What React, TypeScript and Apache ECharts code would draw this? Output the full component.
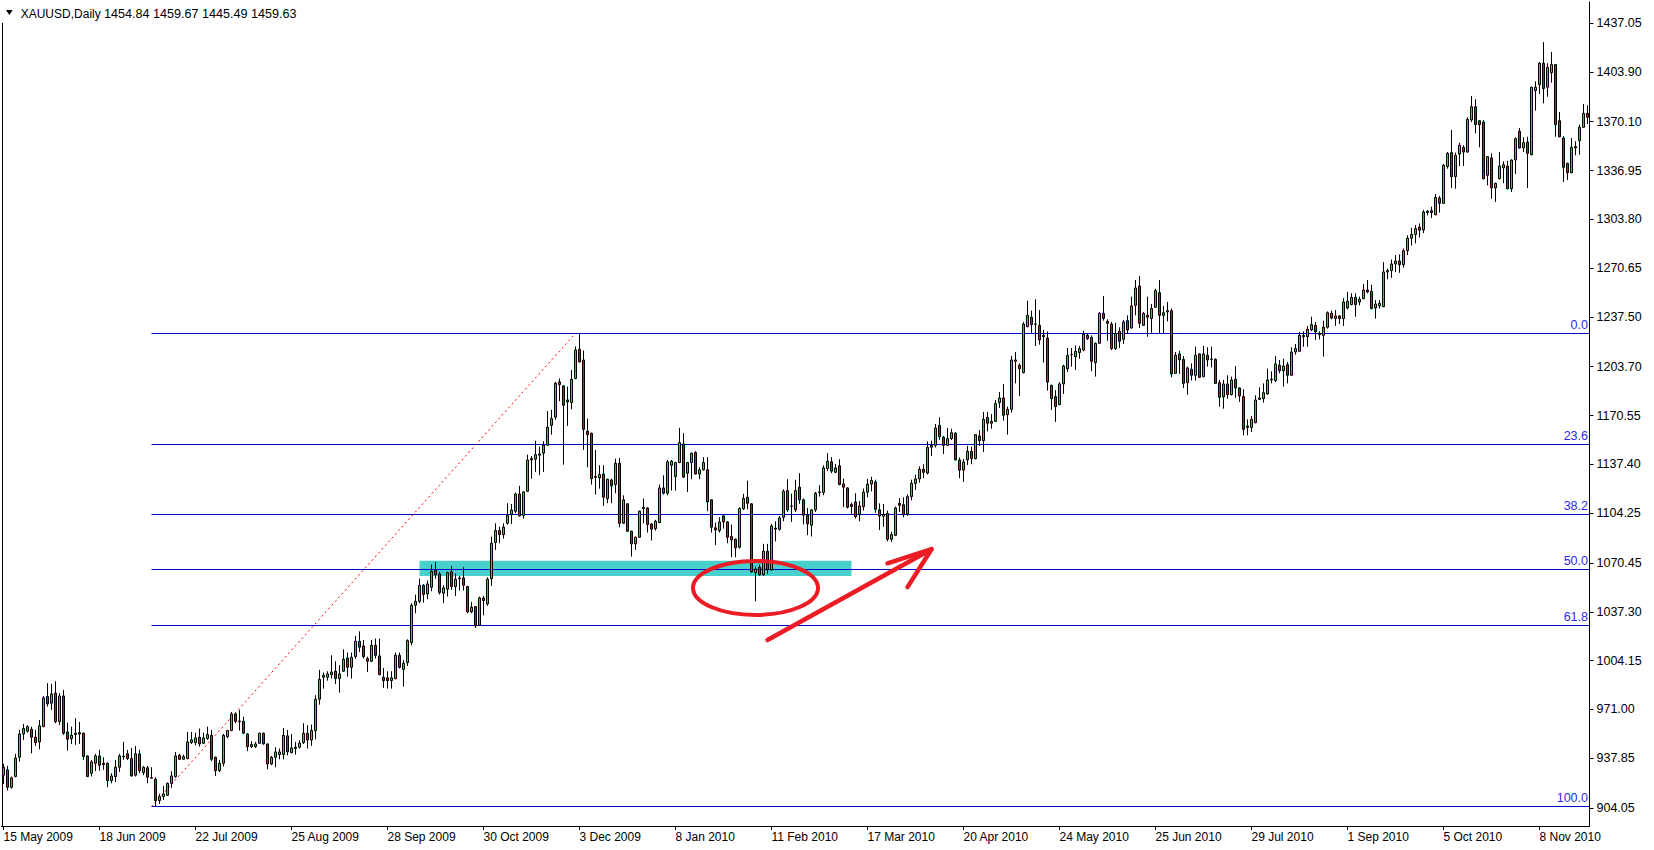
import React, { useEffect, useRef } from "react";
import * as echarts from "echarts";

// ---------------- data ----------------
const symbolName = "XAUUSD,Daily";
const symbolQuote = "1454.84 1459.67 1445.49 1459.63";
const tickLabels = [
  "15 May 2009", "18 Jun 2009", "22 Jul 2009", "25 Aug 2009", "28 Sep 2009",
  "30 Oct 2009", "3 Dec 2009", "8 Jan 2010", "11 Feb 2010", "17 Mar 2010",
  "20 Apr 2010", "24 May 2010", "25 Jun 2010", "29 Jul 2010", "1 Sep 2010",
  "5 Oct 2010", "8 Nov 2010",
];
const labelEvery = 24;
const priceTicks = [
  904.05, 937.85, 971.0, 1004.15, 1037.3, 1070.45, 1104.25, 1137.4, 1170.55,
  1203.7, 1237.5, 1270.65, 1303.8, 1336.95, 1370.1, 1403.9, 1437.05,
];
const yMin = 891.8;
const yMax = 1451.4;

// Fibonacci retracement
const fibLevels = [0, 23.6, 38.2, 50, 61.8, 100];
const fibHigh = 1226.4;
const fibLow = 905.0;
const fibStartIdx = 37;
const fibEndIdx = 143;
// support zone
const zoneFromIdx = 104;
const zoneToIdx = 212;
const zoneTop = 1072.0;
const zoneBottom = 1061.6;
// hand-drawn annotations (anchored in data space)
const circleAt = { idx: 188, price: 1053.5 };
const arrowFrom = { idx: 191, price: 1018.1 };
const arrowTip = { idx: 232, price: 1079.8 };
const arrowBarbs = [{ idx: 221, price: 1070.2 }, { idx: 226, price: 1054.0 }];

// daily bars [open, close, low, high]
const p00 = [
  [926.3, 931.7, 920.4, 933.9], [929.9, 918.1, 915.9, 932.6], [918.1, 924.5, 917.2, 925.4], [925.4, 938.0, 924.9, 940.8],
  [938.5, 954.3, 935.5, 957.1], [954.3, 958.0, 950.3, 961.1], [956.2, 959.3, 955.2, 960.2], [957.5, 952.1, 941.2, 959.3],
  [952.1, 948.5, 946.2, 957.1], [948.9, 959.8, 943.9, 963.8], [959.3, 978.8, 958.9, 980.1], [979.7, 974.7, 972.9, 988.8],
  [975.2, 981.5, 970.6, 988.3], [982.0, 962.7, 961.6, 990.1], [962.7, 980.1, 960.4, 982.0], [980.1, 954.8, 953.7, 984.2],
  [955.7, 950.7, 943.0, 962.0], [951.2, 953.4, 947.5, 959.3], [953.9, 954.8, 946.9, 965.0], [955.2, 954.3, 947.5, 962.5],
  [954.8, 938.9, 936.7, 955.2], [939.4, 925.4, 925.0, 939.8], [927.6, 935.3, 925.4, 936.7], [934.4, 939.4, 929.0, 940.8],
];
const p01 = [
  [939.4, 933.1, 929.4, 943.5], [934.4, 933.5, 929.9, 938.5], [934.4, 922.6, 918.1, 935.0], [922.6, 925.8, 920.8, 927.6],
  [925.4, 931.7, 921.7, 936.7], [931.7, 939.4, 928.5, 940.8], [938.7, 939.2, 936.7, 948.9], [940.8, 937.6, 936.7, 943.5],
  [937.6, 925.8, 925.4, 944.8], [926.3, 940.8, 925.4, 946.2], [940.8, 929.4, 927.6, 943.5], [928.1, 931.7, 926.3, 932.6],
  [931.3, 924.9, 920.8, 932.6], [924.7, 924.3, 924.0, 931.7], [923.5, 909.1, 905.0, 924.9], [909.1, 911.8, 906.8, 913.6],
  [911.8, 913.6, 909.5, 919.0], [912.7, 920.8, 912.2, 921.3], [920.8, 925.8, 917.7, 929.0], [925.4, 939.4, 924.5, 942.1],
  [939.9, 937.1, 936.7, 940.8], [937.1, 938.9, 936.7, 940.3], [937.6, 948.9, 937.1, 955.7], [948.5, 950.3, 947.5, 955.7],
];
const p02 = [
  [948.5, 951.6, 946.6, 955.2], [952.1, 947.5, 945.7, 958.0], [948.0, 951.6, 947.5, 955.2], [951.2, 953.9, 950.3, 959.3],
  [953.4, 937.1, 935.8, 957.1], [938.5, 929.4, 925.8, 938.9], [929.4, 934.4, 928.5, 936.7], [934.4, 953.4, 932.2, 954.3],
  [952.5, 956.6, 951.4, 957.1], [956.6, 967.9, 956.2, 969.3], [967.9, 962.9, 961.6, 968.8], [963.1, 962.7, 956.6, 970.6],
  [962.9, 954.8, 954.3, 966.1], [954.3, 945.7, 942.6, 954.8], [945.7, 947.1, 944.8, 949.4], [945.7, 947.5, 944.8, 948.9],
  [948.0, 954.8, 947.5, 955.2], [954.8, 947.5, 947.1, 955.2], [947.5, 933.9, 930.3, 947.9], [933.9, 938.5, 933.1, 939.4],
  [938.5, 942.1, 931.7, 945.3], [940.3, 942.1, 937.1, 944.4], [940.3, 953.4, 937.1, 958.4], [953.0, 942.1, 939.8, 957.0],
];
const p03 = [
  [941.6, 944.8, 941.2, 954.3], [944.4, 945.3, 940.3, 948.9], [945.3, 948.0, 944.4, 950.2], [948.4, 954.8, 947.5, 961.6],
  [954.8, 950.2, 944.4, 960.2], [950.2, 956.6, 946.2, 960.7], [956.6, 977.9, 950.7, 980.6], [977.9, 991.4, 974.2, 997.8],
  [992.8, 994.2, 985.1, 996.0], [992.8, 995.1, 990.5, 996.9], [994.6, 996.4, 991.9, 1007.7], [996.9, 991.9, 988.3, 1003.7],
  [991.9, 995.1, 982.4, 1001.0], [996.9, 1005.0, 996.4, 1011.8], [1005.9, 999.6, 993.3, 1009.6], [999.6, 1006.4, 991.9, 1009.6],
  [1006.8, 1017.3, 1005.5, 1020.9], [1017.3, 1013.2, 1010.0, 1024.0], [1014.1, 1006.8, 1005.5, 1018.2], [1005.5, 1003.7, 996.4, 1006.8],
  [1003.7, 1014.5, 1003.2, 1018.2], [1014.5, 1007.7, 1005.5, 1019.1], [1007.3, 994.6, 994.2, 1019.1], [992.8, 990.5, 985.6, 999.1],
];
const p04 = [
  [992.4, 990.5, 985.1, 996.9], [990.5, 992.4, 985.1, 996.9], [991.9, 1007.7, 991.4, 1009.6], [1007.7, 999.6, 998.7, 1009.6],
  [998.2, 1002.3, 986.5, 1004.6], [1002.8, 1017.7, 1000.5, 1018.6], [1016.4, 1041.7, 1014.5, 1043.1], [1041.7, 1044.4, 1036.3, 1048.9],
  [1044.4, 1055.3, 1043.1, 1059.8], [1055.3, 1049.0, 1043.5, 1056.2], [1049.4, 1056.2, 1045.8, 1058.5], [1053.9, 1064.8, 1051.2, 1069.3],
  [1065.3, 1062.5, 1059.8, 1071.1], [1063.0, 1050.3, 1049.0, 1064.4], [1049.9, 1053.5, 1043.1, 1055.3], [1052.6, 1063.9, 1047.6, 1064.4],
  [1064.4, 1054.4, 1052.1, 1068.4], [1054.4, 1059.4, 1048.0, 1063.4], [1059.8, 1060.3, 1051.7, 1061.6], [1060.3, 1055.3, 1051.7, 1067.5],
  [1054.4, 1037.2, 1036.3, 1055.0], [1037.2, 1040.4, 1036.3, 1044.0], [1040.8, 1027.7, 1026.3, 1041.2], [1028.1, 1046.7, 1027.7, 1047.6],
];
const p05 = [
  [1046.7, 1044.9, 1034.9, 1048.0], [1042.6, 1059.4, 1041.3, 1060.7], [1059.8, 1083.8, 1054.8, 1088.3], [1084.3, 1092.4, 1079.3, 1097.4],
  [1092.4, 1089.7, 1083.8, 1095.1], [1089.7, 1094.7, 1087.0, 1097.4], [1097.4, 1102.8, 1096.5, 1111.0], [1103.3, 1106.4, 1096.9, 1110.5],
  [1105.5, 1117.3, 1104.2, 1118.2], [1117.3, 1102.4, 1101.9, 1122.8], [1102.8, 1118.7, 1100.6, 1119.1], [1119.1, 1140.4, 1118.7, 1144.0],
  [1141.3, 1140.4, 1127.7, 1143.1], [1140.9, 1144.0, 1132.3, 1153.5], [1143.6, 1144.5, 1130.0, 1149.5], [1145.0, 1150.4, 1132.3, 1153.1],
  [1150.4, 1162.6, 1149.9, 1173.5], [1163.9, 1168.5, 1157.6, 1174.4], [1169.4, 1192.5, 1167.6, 1193.4], [1193.4, 1191.6, 1180.3, 1195.7],
  [1190.7, 1177.5, 1137.2, 1191.2], [1181.2, 1179.8, 1163.5, 1190.2], [1179.4, 1195.2, 1174.8, 1201.5], [1195.7, 1215.1, 1195.2, 1217.4],
];
const p06 = [
  [1215.6, 1207.0, 1206.5, 1226.4], [1208.3, 1161.2, 1147.2, 1214.7], [1159.9, 1157.6, 1135.4, 1168.5], [1158.5, 1127.7, 1123.7, 1159.0],
  [1129.1, 1128.6, 1116.9, 1147.2], [1128.2, 1130.4, 1120.9, 1136.8], [1130.9, 1115.1, 1109.2, 1136.8], [1114.1, 1127.3, 1111.0, 1127.7],
  [1126.8, 1122.8, 1111.0, 1127.7], [1123.7, 1138.1, 1117.8, 1141.3], [1138.1, 1097.4, 1094.7, 1141.8], [1097.4, 1113.3, 1097.0, 1116.4],
  [1110.6, 1092.0, 1091.5, 1111.0], [1092.0, 1083.4, 1074.8, 1092.4], [1083.4, 1087.9, 1079.3, 1088.4], [1087.9, 1105.6, 1087.5, 1106.0],
  [1107.4, 1108.3, 1097.4, 1114.2], [1107.8, 1096.5, 1091.1, 1108.3], [1096.9, 1093.4, 1085.7, 1097.4], [1093.8, 1098.8, 1092.4, 1099.7],
  [1097.9, 1121.4, 1097.4, 1123.7], [1121.4, 1117.8, 1116.9, 1130.0], [1117.8, 1139.1, 1116.4, 1140.4], [1136.8, 1139.5, 1119.6, 1140.4],
];
const p07 = [
  [1129.1, 1138.6, 1119.6, 1139.1], [1138.6, 1152.2, 1138.2, 1162.2], [1151.3, 1128.7, 1128.2, 1158.6], [1131.4, 1138.6, 1118.7, 1139.1],
  [1138.6, 1145.0, 1127.3, 1145.4], [1145.4, 1130.9, 1130.5, 1146.3], [1130.9, 1133.7, 1127.3, 1135.5], [1133.7, 1138.6, 1133.2, 1142.3],
  [1133.7, 1111.9, 1105.6, 1142.3], [1113.3, 1094.7, 1091.1, 1113.7], [1094.3, 1092.9, 1082.5, 1097.9], [1092.4, 1098.3, 1091.1, 1101.5],
  [1102.4, 1098.3, 1093.8, 1103.3], [1098.3, 1087.9, 1083.8, 1098.8], [1088.4, 1086.1, 1074.3, 1096.5], [1086.6, 1080.7, 1074.3, 1087.0],
  [1081.1, 1107.4, 1080.2, 1108.3], [1107.2, 1114.2, 1106.5, 1117.4], [1115.1, 1111.0, 1106.9, 1126.4], [1110.6, 1064.4, 1063.9, 1111.0],
  [1063.9, 1066.2, 1044.4, 1068.0], [1067.5, 1062.5, 1061.7, 1069.4], [1062.5, 1078.4, 1061.7, 1083.4], [1078.4, 1065.7, 1063.0, 1083.4],
];
const p08 = [
  [1065.7, 1095.6, 1065.3, 1096.9], [1093.4, 1094.1, 1085.1, 1098.7], [1093.3, 1101.0, 1092.4, 1102.3], [1101.5, 1119.2, 1098.8, 1120.5],
  [1119.6, 1106.5, 1105.1, 1127.3], [1109.2, 1109.0, 1098.3, 1117.4], [1106.5, 1119.6, 1105.1, 1126.9], [1121.9, 1113.3, 1110.6, 1131.4],
  [1113.3, 1102.9, 1096.5, 1114.2], [1102.9, 1097.0, 1089.3, 1107.8], [1096.1, 1106.5, 1088.4, 1106.9], [1106.5, 1117.8, 1105.1, 1118.7],
  [1118.3, 1118.7, 1115.5, 1123.2], [1118.3, 1135.0, 1116.4, 1136.8], [1134.6, 1139.5, 1132.8, 1145.0], [1139.1, 1132.8, 1131.4, 1142.3],
  [1132.0, 1135.0, 1131.4, 1137.7], [1136.4, 1123.7, 1123.2, 1140.9], [1124.1, 1121.9, 1108.3, 1127.8], [1121.4, 1108.3, 1107.4, 1121.9],
  [1110.1, 1108.8, 1103.3, 1111.5], [1111.9, 1101.9, 1100.6, 1117.8], [1103.2, 1109.2, 1098.7, 1112.5], [1108.7, 1118.5, 1106.0, 1121.0],
];
const p09 = [
  [1118.5, 1124.0, 1115.0, 1127.5], [1124.0, 1126.5, 1119.0, 1129.0], [1125.5, 1106.9, 1104.5, 1127.0], [1106.5, 1102.3, 1092.8, 1110.9],
  [1102.2, 1103.4, 1095.0, 1110.5], [1104.1, 1086.5, 1085.1, 1106.0], [1086.5, 1089.7, 1084.7, 1091.5], [1089.2, 1107.8, 1088.7, 1108.7],
  [1111.0, 1109.6, 1105.0, 1114.5], [1110.0, 1103.2, 1101.5, 1115.0], [1103.7, 1115.5, 1102.5, 1117.0], [1115.5, 1124.5, 1113.0, 1127.0],
  [1124.5, 1127.5, 1120.0, 1130.5], [1127.5, 1134.0, 1125.0, 1136.0], [1134.0, 1132.0, 1128.0, 1137.5], [1131.5, 1149.0, 1130.5, 1153.0],
  [1149.0, 1150.3, 1143.1, 1153.5], [1150.3, 1162.1, 1148.9, 1164.8], [1163.9, 1156.2, 1154.0, 1169.3], [1155.8, 1150.3, 1144.4, 1156.7],
  [1150.3, 1154.9, 1149.9, 1162.1], [1154.9, 1158.9, 1154.0, 1161.6], [1158.5, 1140.4, 1140.0, 1159.4], [1140.4, 1133.5, 1128.0, 1142.0],
];
const p10 = [
  [1133.5, 1139.0, 1125.5, 1141.0], [1140.4, 1146.2, 1137.0, 1149.9], [1146.2, 1141.3, 1137.5, 1149.4], [1141.3, 1157.6, 1140.8, 1158.0],
  [1156.7, 1153.5, 1149.9, 1160.7], [1153.5, 1168.0, 1145.8, 1173.0], [1169.3, 1165.3, 1159.8, 1173.0], [1165.3, 1166.6, 1161.6, 1171.6],
  [1166.6, 1178.8, 1166.2, 1181.1], [1179.3, 1182.5, 1175.7, 1186.5], [1182.5, 1170.7, 1167.1, 1192.0], [1171.1, 1174.8, 1157.6, 1176.6],
  [1174.8, 1208.3, 1172.5, 1211.0], [1207.4, 1208.3, 1192.4, 1213.7], [1204.7, 1202.4, 1183.8, 1206.0], [1199.7, 1232.7, 1199.2, 1234.1],
  [1230.9, 1238.6, 1230.5, 1248.6], [1237.3, 1232.3, 1226.8, 1241.8], [1232.5, 1232.7, 1217.8, 1249.5], [1231.8, 1221.9, 1218.7, 1242.2],
  [1225.0, 1224.1, 1206.5, 1228.7], [1223.2, 1193.3, 1187.5, 1227.7], [1191.1, 1182.0, 1174.3, 1191.5], [1183.4, 1176.6, 1166.2, 1187.9],
];
const p11 = [
  [1178.0, 1192.0, 1177.5, 1193.3], [1192.0, 1204.2, 1185.2, 1205.1], [1202.4, 1211.4, 1200.1, 1216.4], [1212.0, 1211.9, 1203.8, 1216.4],
  [1210.5, 1214.2, 1201.5, 1218.2], [1213.3, 1216.0, 1209.2, 1217.8], [1215.1, 1225.9, 1214.2, 1228.2], [1225.0, 1222.8, 1221.9, 1225.9],
  [1223.7, 1207.4, 1200.6, 1225.0], [1206.5, 1219.6, 1197.0, 1220.1], [1219.6, 1240.0, 1219.2, 1240.9], [1240.0, 1236.4, 1235.0, 1251.7],
  [1234.5, 1233.2, 1221.4, 1235.9], [1232.7, 1216.0, 1215.1, 1234.1], [1216.0, 1226.4, 1215.1, 1233.6], [1227.8, 1221.0, 1216.4, 1230.5],
  [1222.3, 1234.1, 1219.2, 1235.5], [1235.0, 1228.7, 1225.9, 1238.6], [1230.0, 1245.0, 1229.6, 1251.3], [1245.4, 1257.2, 1238.6, 1262.6],
  [1258.5, 1233.2, 1230.0, 1265.3], [1231.8, 1240.0, 1231.4, 1240.9], [1238.6, 1237.3, 1224.1, 1251.3], [1236.4, 1243.2, 1226.8, 1246.3],
];
const p12 = [
  [1244.1, 1255.4, 1243.6, 1256.7], [1254.0, 1238.6, 1226.4, 1262.6], [1238.6, 1240.4, 1226.4, 1245.0], [1240.9, 1241.8, 1234.5, 1247.7],
  [1241.8, 1198.8, 1196.5, 1243.2], [1199.2, 1211.5, 1198.8, 1213.7], [1212.4, 1208.3, 1198.8, 1214.6], [1208.7, 1192.4, 1189.3, 1211.0],
  [1192.9, 1202.9, 1184.7, 1203.8], [1202.0, 1197.9, 1194.3, 1206.0], [1197.9, 1211.5, 1194.3, 1217.3], [1212.4, 1196.5, 1196.1, 1212.8],
  [1197.0, 1212.4, 1196.5, 1217.8], [1211.5, 1208.3, 1203.8, 1216.9], [1208.9, 1208.7, 1203.3, 1217.3], [1208.7, 1192.4, 1192.0, 1209.5],
  [1192.9, 1182.9, 1176.6, 1194.7], [1183.3, 1192.0, 1175.2, 1194.7], [1192.0, 1184.7, 1182.0, 1197.9], [1184.7, 1194.7, 1184.3, 1197.0],
  [1195.2, 1189.3, 1182.5, 1204.2], [1189.3, 1183.8, 1179.8, 1189.7], [1183.4, 1161.2, 1157.1, 1188.4], [1162.5, 1163.5, 1157.1, 1168.0],
];
const p13 = [
  [1162.5, 1168.0, 1159.4, 1170.3], [1165.7, 1181.1, 1165.3, 1184.3], [1181.5, 1182.5, 1181.1, 1189.7], [1182.0, 1186.1, 1179.3, 1192.4],
  [1185.2, 1194.7, 1184.7, 1202.4], [1194.7, 1195.2, 1192.4, 1200.6], [1194.3, 1205.6, 1193.3, 1211.0], [1204.7, 1201.0, 1199.2, 1208.3],
  [1201.0, 1204.2, 1190.2, 1209.2], [1205.1, 1197.9, 1192.4, 1206.9], [1197.9, 1213.7, 1197.4, 1216.9], [1213.7, 1216.0, 1211.9, 1219.2],
  [1214.2, 1225.0, 1213.7, 1227.3], [1224.1, 1225.0, 1217.3, 1227.8], [1224.1, 1229.1, 1217.3, 1231.4], [1228.7, 1232.3, 1227.8, 1237.7],
  [1231.8, 1227.3, 1221.9, 1234.1], [1226.4, 1225.5, 1222.3, 1227.8], [1225.0, 1230.5, 1210.6, 1235.0], [1230.5, 1240.4, 1229.6, 1241.3],
  [1240.0, 1236.8, 1235.9, 1241.8], [1236.4, 1238.2, 1231.4, 1242.2], [1238.2, 1236.4, 1232.7, 1238.6], [1236.4, 1247.7, 1231.4, 1250.4],
];
const p14 = [
  [1243.6, 1248.1, 1242.7, 1254.5], [1245.9, 1250.8, 1245.4, 1253.6], [1250.8, 1245.9, 1237.7, 1253.6], [1247.7, 1249.5, 1245.4, 1251.3],
  [1249.9, 1255.8, 1249.5, 1259.9], [1255.8, 1254.5, 1253.6, 1262.6], [1254.9, 1243.2, 1242.7, 1259.5], [1243.6, 1246.3, 1236.4, 1249.0],
  [1245.0, 1246.8, 1243.2, 1249.0], [1244.5, 1268.1, 1244.1, 1274.8], [1268.1, 1269.0, 1263.1, 1270.3], [1269.0, 1273.5, 1264.0, 1276.5],
  [1273.5, 1275.5, 1268.0, 1279.5], [1275.5, 1273.0, 1267.5, 1280.0], [1273.0, 1282.5, 1271.0, 1284.0], [1282.5, 1291.0, 1279.5, 1293.0],
  [1291.0, 1293.5, 1286.0, 1298.0], [1293.5, 1297.5, 1287.5, 1300.0], [1298.5, 1296.5, 1291.5, 1301.0], [1296.6, 1308.8, 1294.5, 1310.1],
  [1308.4, 1309.3, 1306.5, 1310.1], [1309.7, 1308.4, 1304.7, 1312.4], [1307.0, 1318.7, 1306.5, 1321.0], [1318.3, 1314.7, 1308.4, 1319.7],
];
const p15 = [
  [1314.7, 1340.5, 1314.2, 1341.4], [1339.6, 1348.6, 1338.2, 1349.5], [1349.1, 1332.8, 1325.1, 1364.5], [1332.8, 1347.3, 1324.6, 1349.1],
  [1348.2, 1354.1, 1340.0, 1355.9], [1352.7, 1349.5, 1340.0, 1354.1], [1349.5, 1371.7, 1349.1, 1373.1], [1371.3, 1380.3, 1369.9, 1387.6],
  [1380.3, 1368.1, 1362.2, 1385.3], [1370.8, 1368.1, 1352.7, 1371.3], [1369.9, 1331.4, 1330.9, 1371.3], [1333.7, 1346.4, 1326.9, 1346.8],
  [1345.5, 1325.1, 1317.8, 1348.6], [1325.1, 1328.3, 1315.6, 1328.7], [1331.4, 1340.0, 1330.9, 1349.5], [1338.7, 1340.9, 1328.3, 1343.2],
  [1340.0, 1324.6, 1324.2, 1343.6], [1324.6, 1344.1, 1322.4, 1344.5], [1344.1, 1358.6, 1334.6, 1359.5], [1363.6, 1352.3, 1351.8, 1365.8],
  [1352.3, 1355.9, 1349.5, 1359.5], [1356.3, 1348.6, 1325.1, 1359.9], [1347.7, 1393.5, 1347.3, 1393.9], [1391.2, 1393.5, 1377.6, 1397.5],
];
const p16 = [
  [1395.3, 1409.8, 1388.9, 1410.7], [1409.8, 1392.6, 1382.6, 1424.2], [1393.5, 1407.0, 1387.1, 1409.8], [1403.4, 1408.9, 1396.6, 1417.5],
  [1408.9, 1368.1, 1359.9, 1409.3], [1370.8, 1359.9, 1359.5, 1376.7], [1359.0, 1339.1, 1329.2, 1360.4], [1341.8, 1335.5, 1330.5, 1342.3],
  [1335.5, 1352.7, 1335.0, 1359.0], [1352.3, 1353.2, 1347.3, 1356.8], [1357.2, 1366.3, 1347.7, 1368.1], [1366.3, 1375.8, 1365.8, 1382.1],
  [1375.8, 1373.1, 1368.6, 1381.2],
];
const bars = [
  ...p00, ...p01, ...p02, ...p03, ...p04, ...p05, ...p06, ...p07, ...p08,
  ...p09, ...p10, ...p11, ...p12, ...p13, ...p14, ...p15, ...p16,
];

// trading calendar (weekdays, market closed on 25 Dec and 1 Jan)
const MONTHS = ["Jan", "Feb", "Mar", "Apr", "May", "Jun", "Jul", "Aug", "Sep", "Oct", "Nov", "Dec"];
function tradingDays(startISO: string, n: number): string[] {
  const out: string[] = [];
  const d = new Date(startISO + "T00:00:00Z");
  while (out.length < n) {
    const wd = d.getUTCDay();
    const m = d.getUTCMonth();
    const day = d.getUTCDate();
    const closed = (m === 11 && day === 25) || (m === 0 && day === 1);
    if (wd !== 0 && wd !== 6 && !closed) out.push(`${day} ${MONTHS[m]} ${d.getUTCFullYear()}`);
    d.setUTCDate(day + 1);
  }
  return out;
}
const dates = tradingDays("2009-05-15", bars.length);

// ---------------- styles ----------------
const W = 1654;
const H = 850;
const GRID = { left: 1.5, right: 64.5, top: 2, bottom: 24 };
const FONT = '"Liberation Sans", Arial, sans-serif';
const BULL = "#32cd32";
const BEAR = "#d21a1a";
const FIB_LINE = "#0000c8";
const FIB_TEXT = "#2b2bf2";
const ZONE = "#48d1cc";
const MARKER = "#ec1c24";

export default function App() {
  const ref = useRef<HTMLDivElement | null>(null);

  useEffect(() => {
    if (!ref.current) return;
    const chart = echarts.init(ref.current, null, { renderer: "svg" });
    chart.setOption({
      animation: false,
      backgroundColor: "#ffffff",
      grid: { ...GRID, containLabel: false },
      xAxis: {
        type: "category",
        data: dates,
        boundaryGap: true,
        axisLine: { show: true, lineStyle: { color: "#000", width: 1 } },
        axisTick: {
          show: true,
          alignWithLabel: true,
          length: 4,
          interval: (i: number) => i % labelEvery === 0,
          lineStyle: { color: "#000" },
        },
        axisLabel: {
          interval: (i: number) => i % labelEvery === 0,
          formatter: (_v: string, i: number) => tickLabels[Math.round(i / labelEvery)] ?? "",
          align: "left",
          margin: 5,
          color: "#000",
          fontFamily: FONT,
          fontSize: 12,
        },
        splitLine: { show: false },
      },
      yAxis: {
        type: "value",
        position: "right",
        min: yMin,
        max: yMax,
        axisLine: { show: true, lineStyle: { color: "#000", width: 1 } },
        axisTick: { show: true, length: 4, customValues: priceTicks, lineStyle: { color: "#000" } },
        axisLabel: {
          customValues: priceTicks,
          formatter: (v: number) => v.toFixed(2),
          margin: 7,
          color: "#000",
          fontFamily: FONT,
          fontSize: 12.5,
        },
        splitLine: { show: false },
      },
      series: [
        {
          type: "candlestick",
          data: bars,
          barWidth: 2.6,
          z: 5,
          itemStyle: {
            color: BULL,
            color0: BEAR,
            borderColor: "#000",
            borderColor0: "#000",
            borderWidth: 1,
          },
        },
      ],
    });

    const px = (i: number, p: number) => chart.convertToPixel({ gridIndex: 0 }, [i, p]) as number[];
    const rightX = W - GRID.right;
    const crisp = (v: number) => Math.floor(v) + 0.5;
    const elements: any[] = [];

    // left frame line
    elements.push({
      type: "line",
      z: 1,
      shape: { x1: 2.5, y1: 23, x2: 2.5, y2: H - GRID.bottom },
      style: { stroke: "#000", lineWidth: 1 },
    });

    // header
    elements.push({
      type: "polygon",
      z: 1,
      shape: { points: [[6, 10], [12.7, 10], [9.35, 15]] },
      style: { fill: "#000" },
    });
    elements.push({
      type: "text",
      z: 1,
      x: 20.7,
      y: 13.5,
      style: {
        text: symbolName,
        fill: "#000",
        font: `12px ${FONT}`,
        align: "left",
        textAlign: "left",
        verticalAlign: "middle",
        textVerticalAlign: "middle",
      },
    });
    elements.push({
      type: "text",
      z: 1,
      x: 104,
      y: 13.5,
      style: {
        text: symbolQuote,
        fill: "#000",
        font: `12.6px ${FONT}`,
        align: "left",
        textAlign: "left",
        verticalAlign: "middle",
        textVerticalAlign: "middle",
      },
    });

    // support zone
    const zA = px(zoneFromIdx, zoneTop);
    const zB = px(zoneToIdx, zoneBottom);
    elements.push({
      type: "rect",
      z: 1,
      shape: { x: zA[0], y: zA[1], width: zB[0] - zA[0], height: zB[1] - zA[1] },
      style: { fill: ZONE },
    });

    // fibonacci levels
    const fx0 = px(fibStartIdx, fibHigh)[0];
    fibLevels.forEach((lv) => {
      const price = fibHigh - ((fibHigh - fibLow) * lv) / 100;
      const y = crisp(px(0, price)[1]);
      elements.push({
        type: "line",
        z: 2,
        shape: { x1: fx0, y1: y, x2: rightX, y2: y },
        style: { stroke: FIB_LINE, lineWidth: 1 },
      });
      elements.push({
        type: "text",
        z: 2,
        x: rightX - 1.5,
        y: y - 2,
        style: {
          text: lv.toFixed(1),
          fill: FIB_TEXT,
          font: `12.5px ${FONT}`,
          align: "right",
          textAlign: "right",
          verticalAlign: "bottom",
          textVerticalAlign: "bottom",
        },
      });
    });

    // fibonacci trend line (dotted)
    const t0 = px(fibStartIdx, fibLow);
    const t1 = px(fibEndIdx, fibHigh);
    elements.push({
      type: "line",
      z: 3,
      shape: { x1: t0[0], y1: t0[1], x2: t1[0], y2: t1[1] },
      style: { stroke: "#ff0000", lineWidth: 1, lineDash: [2, 3] },
    });

    // hand-drawn circle
    const c = px(circleAt.idx, circleAt.price);
    elements.push({
      type: "ellipse",
      z: 20,
      shape: { cx: c[0], cy: c[1], rx: 62.5, ry: 27 },
      style: { fill: "none", stroke: MARKER, lineWidth: 4 },
    });

    // hand-drawn arrow
    const a0 = px(arrowFrom.idx, arrowFrom.price);
    const a1 = px(arrowTip.idx, arrowTip.price);
    const b1 = px(arrowBarbs[0].idx, arrowBarbs[0].price);
    const b2 = px(arrowBarbs[1].idx, arrowBarbs[1].price);
    elements.push({
      type: "polyline",
      z: 20,
      shape: { points: [a0, a1] },
      style: { stroke: MARKER, lineWidth: 4.5, lineCap: "round", fill: "none" },
    });
    elements.push({
      type: "polyline",
      z: 20,
      shape: { points: [b1, a1, b2] },
      style: { stroke: MARKER, lineWidth: 4.5, lineCap: "round", lineJoin: "round", fill: "none" },
    });

    chart.setOption({ graphic: { elements } });

    return () => chart.dispose();
  }, []);

  return (
    <div
      ref={ref}
      style={{ position: "absolute", left: 0, top: 0, width: W, height: H, background: "#fff" }}
    />
  );
}
